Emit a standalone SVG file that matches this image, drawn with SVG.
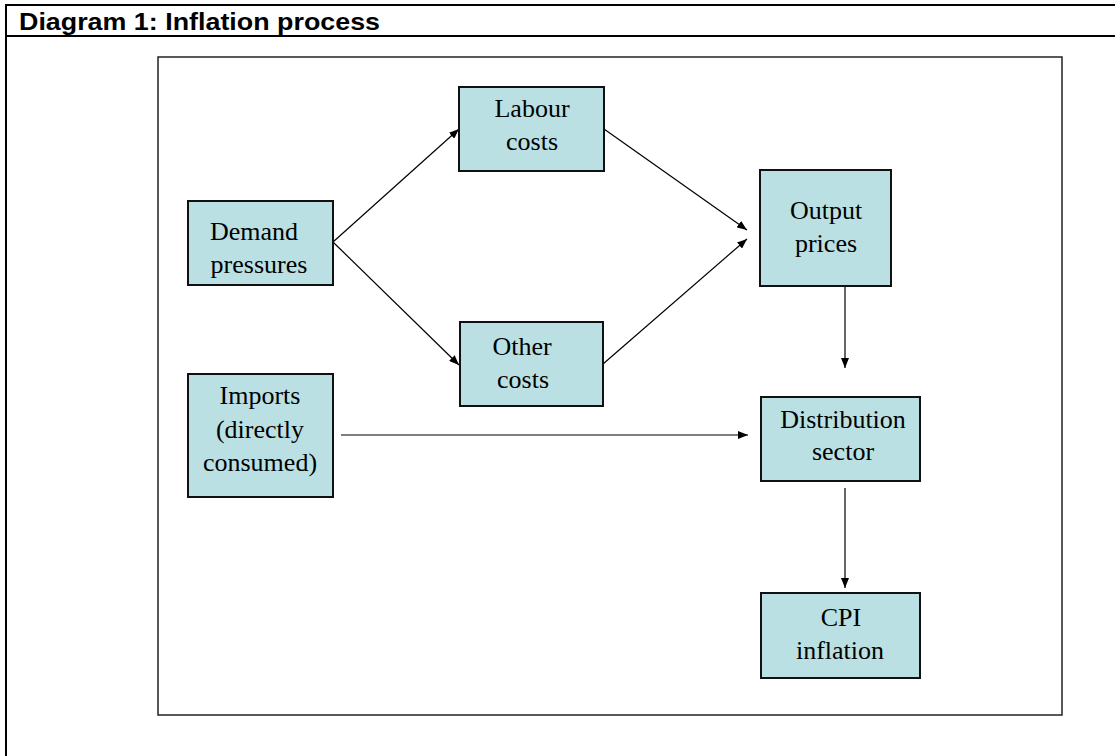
<svg xmlns="http://www.w3.org/2000/svg" width="1115" height="756" viewBox="0 0 1115 756">
<style>
.box{fill:#BAE0E3;stroke:#111;stroke-width:2}
.t{font-family:"Liberation Serif","Times New Roman",serif;font-size:26px;fill:#000;text-anchor:middle}
.c{stroke:#000;stroke-width:1.2;fill:none;marker-end:url(#ah)}
</style>
<defs>
<marker id="ah" viewBox="0 0 10 8" refX="10" refY="4" markerWidth="10" markerHeight="8" markerUnits="userSpaceOnUse" orient="auto">
<path d="M0,0 L10,4 L0,8 Z" fill="#000"/>
</marker>
</defs>
<rect width="1115" height="756" fill="#fff"/>
<g id="frame">
<line x1="6" y1="4" x2="6" y2="756" stroke="#000" stroke-width="2"/>
<line x1="5" y1="5" x2="1115" y2="5" stroke="#000" stroke-width="2"/>
<line x1="5" y1="36" x2="1115" y2="36" stroke="#000" stroke-width="2"/>
<text x="19" y="30" font-family="Liberation Sans, Arial, sans-serif" font-size="24" font-weight="bold" textLength="361" lengthAdjust="spacingAndGlyphs">Diagram 1: Inflation process</text>
<rect x="158" y="57" width="904" height="658" fill="none" stroke="#222" stroke-width="1.5"/>
</g>
<g id="connectors">
<line class="c" x1="333" y1="242" x2="459" y2="129"/>
<line class="c" x1="333" y1="242" x2="459" y2="365"/>
<line class="c" x1="604" y1="129" x2="747" y2="230"/>
<line class="c" x1="603" y1="364" x2="747" y2="239"/>
<line class="c" x1="341" y1="435" x2="748" y2="435"/>
<line class="c" x1="845" y1="287" x2="845" y2="368"/>
<line class="c" x1="845" y1="488" x2="845" y2="588"/>
</g>
<g id="demand">
<rect class="box" x="188" y="201" width="145" height="84"/>
<text class="t" x="254" y="240">Demand</text>
<text class="t" x="259" y="273">pressures</text>
</g>
<g id="labour">
<rect class="box" x="459" y="87" width="145" height="84"/>
<text class="t" x="532" y="117">Labour</text>
<text class="t" x="532" y="150">costs</text>
</g>
<g id="output">
<rect class="box" x="760" y="170" width="131" height="116"/>
<text class="t" x="826" y="219">Output</text>
<text class="t" x="826" y="252">prices</text>
</g>
<g id="other">
<rect class="box" x="460" y="322" width="143" height="84"/>
<text class="t" x="522" y="355">Other</text>
<text class="t" x="523" y="388">costs</text>
</g>
<g id="imports">
<rect class="box" x="188" y="374" width="145" height="123"/>
<text class="t" x="260" y="404">Imports</text>
<text class="t" x="260" y="438">(directly</text>
<text class="t" x="260" y="471">consumed)</text>
</g>
<g id="distribution">
<rect class="box" x="761" y="397" width="159" height="84"/>
<text class="t" x="843" y="428">Distribution</text>
<text class="t" x="843" y="460">sector</text>
</g>
<g id="cpi">
<rect class="box" x="761" y="593" width="159" height="85"/>
<text class="t" x="841" y="626">CPI</text>
<text class="t" x="840" y="659">inflation</text>
</g>
</svg>
